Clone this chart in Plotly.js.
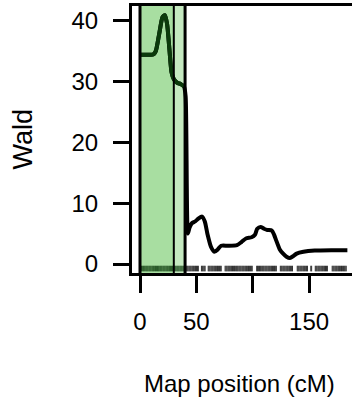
<!DOCTYPE html>
<html>
<head>
<meta charset="utf-8">
<script src="https://cdn.plot.ly/plotly-3.0.1.min.js"></script>
<style>
  html, body { margin: 0; padding: 0; background: #fff; overflow: hidden; }
  #chart { width: 352px; height: 400px; }
</style>
</head>
<body>
<div id="chart"></div>
<script>
// Wald statistic scan along the linkage group (cM)
const positionCM = [0, 12, 14, 17, 20, 22, 24, 26, 28, 30, 33, 36, 39, 40.5, 42.5, 44, 46, 49, 52, 55, 57.5, 60, 63, 66, 69, 72, 78, 86, 90, 94, 99, 102, 104, 107, 110, 113, 117, 119, 121, 124, 127, 130, 133, 136, 139, 145, 155, 170, 184];
const waldValues = [34.4, 34.5, 35, 37.8, 40.6, 40.9, 39.5, 35.5, 31.5, 30.4, 29.8, 29.6, 29.2, 27.5, 5.0, 6.0, 6.7, 7.0, 7.5, 7.8, 7.0, 4.8, 2.8, 2.0, 2.4, 3.0, 3.0, 3.1, 3.6, 4.2, 4.4, 4.8, 5.8, 6.1, 5.8, 5.6, 5.5, 4.8, 3.8, 2.4, 1.7, 1.2, 1.0, 1.3, 1.7, 2.0, 2.2, 2.25, 2.25];

// Marker positions shown as a rug along the bottom
const markerCM = [0.5, 1.3, 2.1, 3, 3.8, 4.6, 5.5, 6.3, 7.1, 8, 8.8, 9.6, 10.5, 11.3, 12.1, 13, 13.8, 14.6, 15.5, 16.3, 17.1, 18, 18.8, 19.6,
  20.5, 21.3, 22.1, 23, 23.8, 24.6, 25.5, 26.3, 27.1, 28, 28.8, 29.6, 30.5, 31.3, 32.1, 33, 33.8, 34.6, 35.5, 36.3, 37.1, 38, 38.8, 39.6,
  41, 41.8, 42.6, 43.5, 44.3, 45.1, 46, 46.8, 47.6, 48.5, 49.3, 50.1, 51, 51.8, 54.5, 55.3, 56.1, 57, 57.8, 60.5, 61.3, 62.1, 63, 63.8,
  64.6, 65.5, 66.3, 67.1, 68, 68.8, 69.6, 70.5, 71.3, 72.1, 75.5, 76.3, 77.1, 78, 78.8, 79.6, 80.5, 81.3, 82.1, 83, 83.8, 84.6, 85.5,
  86.3, 87.1, 88, 88.8, 89.6, 90.5, 91.3, 92.1, 93, 93.8, 94.6, 95.5, 96.3, 97.1, 98, 98.8, 99.6, 103.5, 104.3, 105.1, 106, 106.8,
  107.6, 108.5, 109.3, 110.1, 111, 111.8, 112.6, 113.5, 114.3, 115.1, 116, 116.8, 117.6, 118.5, 119.3, 120.1, 121, 124.5, 125.3, 126.1,
  127, 127.8, 128.6, 129.5, 130.3, 131.1, 132, 132.8, 133.6, 134.5, 135.3, 139.5, 140.3, 141.1, 142, 142.8, 143.6, 144.5, 145.3, 146.1,
  147, 147.8, 148.6, 151.5, 152.3, 155.5, 156.3, 157.1, 158, 158.8, 159.6, 160.5, 161.3, 162.1, 163, 163.8, 164.6, 165.5, 166.3,
  170.5, 171.3, 172.1, 173, 173.8, 174.6, 175.5, 176.3, 177.1, 178, 178.8, 179.6, 180.5, 181.3, 182.1, 183];

// Supporting intervals and interval bounds (cM)
const intervalOuter = [0, 40];
const intervalInner = [0, 30];
const boundaryLines = [0, 30, 40];
const boundaryWidths = [3, 2, 3];

const xTickVals = [0, 50, 100, 150];
const xTickText = ['0', '50', '', '150'];
const yTickVals = [0, 10, 20, 30, 40];

const FONT = 'Liberation Sans, Arial, sans-serif';
const fill = 'rgba(139,211,129,0.5)';
const shadedInk = '#0b3a0b';
const inInterval = v => v >= intervalOuter[0] && v <= intervalOuter[1];

const shapes = [
  { type: 'rect', xref: 'x', yref: 'paper', x0: intervalOuter[0], x1: intervalOuter[1], y0: 0, y1: 1,
    fillcolor: fill, line: { width: 0 }, layer: 'below' },
  { type: 'rect', xref: 'x', yref: 'paper', x0: intervalInner[0], x1: intervalInner[1], y0: 0, y1: 1,
    fillcolor: fill, line: { width: 0 }, layer: 'below' }
];
boundaryLines.forEach((v, i) => {
  shapes.push({ type: 'line', xref: 'x', yref: 'paper', x0: v, x1: v, y0: 0, y1: 1,
    line: { color: '#000', width: boundaryWidths[i] }, layer: 'above' });
});

// part of the scan inside the shaded interval is inked dark green
const shadedX = positionCM.filter(inInterval);
const shadedY = waldValues.filter((_, i) => inInterval(positionCM[i]));

const traces = [
  { x: markerCM, y: markerCM.map(() => -0.75), type: 'scatter', mode: 'markers', hoverinfo: 'skip',
    marker: { symbol: 'line-ns', size: 4,
      line: { color: markerCM.map(v => inInterval(v) ? shadedInk : '#000'), width: 0.8 } } },
  { x: positionCM, y: waldValues, type: 'scatter', mode: 'lines',
    line: { color: '#000', width: 4, shape: 'spline', smoothing: 0.6 } },
  { x: shadedX, y: shadedY, type: 'scatter', mode: 'lines',
    line: { color: shadedInk, width: 4, shape: 'spline', smoothing: 0.6 } }
];

const layout = {
  width: 352, height: 400,
  margin: { l: 132, r: 0, t: 6, b: 127, pad: 0 },
  paper_bgcolor: '#fff', plot_bgcolor: '#fff',
  showlegend: false,
  font: { family: FONT, size: 24, color: '#000' },
  xaxis: {
    range: [-7.1, 188.1], showgrid: false, zeroline: false,
    showline: true, linecolor: '#000', linewidth: 3, mirror: true,
    ticks: 'outside', ticklen: 17, tickwidth: 3, tickcolor: '#000',
    tickvals: xTickVals, ticktext: xTickText, ticklabelstandoff: 8,
    tickfont: { family: FONT, size: 24, color: '#000' }
  },
  yaxis: {
    range: [-1.48, 42.42], showgrid: false, zeroline: false,
    showline: true, linecolor: '#000', linewidth: 3,
    ticks: 'outside', ticklen: 16, tickwidth: 3, tickcolor: '#000',
    tickvals: yTickVals, ticklabelstandoff: 10,
    tickfont: { family: FONT, size: 24, color: '#000' }
  },
  shapes: shapes,
  annotations: [
    { text: 'Map position (cM)', xref: 'paper', yref: 'paper', x: 0, y: 0,
      xanchor: 'center', yanchor: 'middle', showarrow: false,
      font: { family: FONT, size: 24, color: '#000' },
      xshift: 239 - 132, yshift: -(383 - 273) },
    { text: 'Wald', xref: 'paper', yref: 'paper', x: 0, y: 0.5, textangle: -90,
      xanchor: 'center', yanchor: 'middle', showarrow: false,
      font: { family: FONT, size: 27, color: '#000' },
      xshift: 22 - 132 }
  ]
};

Plotly.newPlot('chart', traces, layout, { displayModeBar: false, staticPlot: true });
</script>
</body>
</html>
